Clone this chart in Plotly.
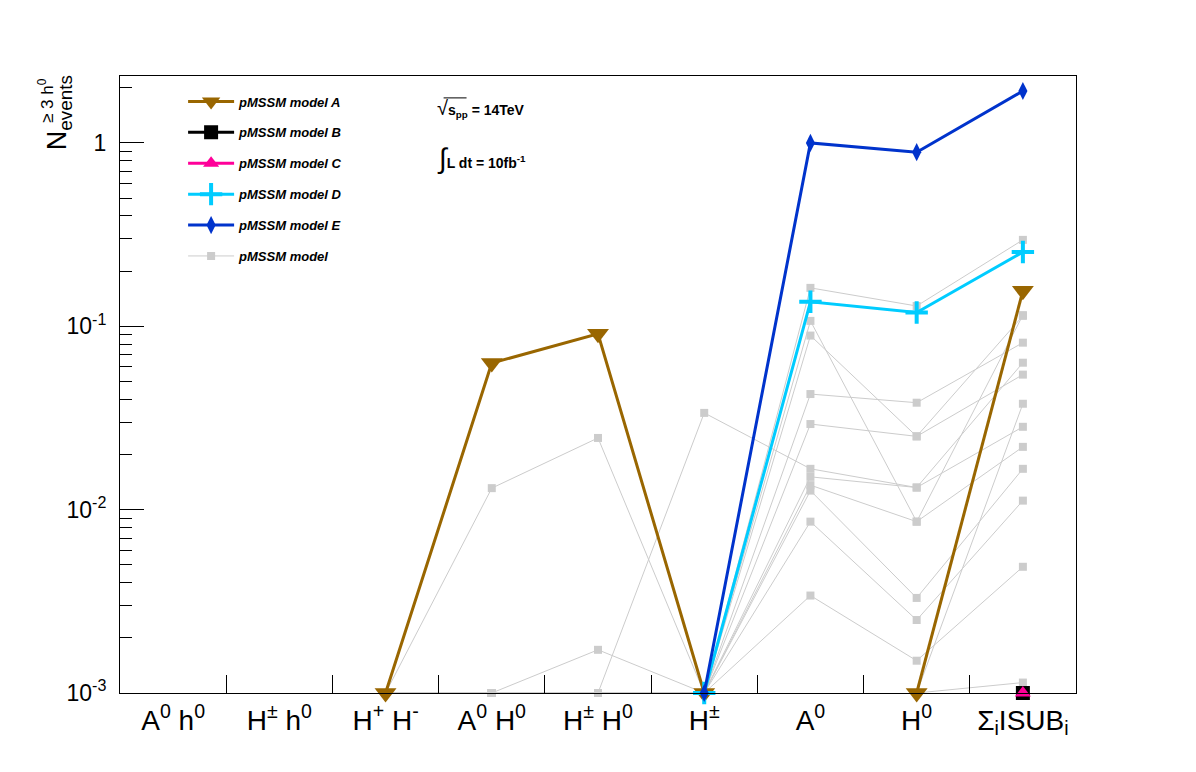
import plotly.graph_objects as go

# categories (bins of the histogram-like x axis)
categories = ["A<sup>0</sup> h<sup>0</sup>", "H<sup>±</sup> h<sup>0</sup>", "H<sup>+</sup> H<sup>-</sup>",
              "A<sup>0</sup> H<sup>0</sup>", "H<sup>±</sup> H<sup>0</sup>", "H<sup>±</sup>",
              "A<sup>0</sup>", "H<sup>0</sup>", "Σ<sub>i</sub>ISUB<sub>i</sub>"]

# benchmark models
model_a = [None, None, 0.001, 0.063, 0.091, 0.001, None, 0.001, 0.156]
model_b = [None, None, None, None, None, None, None, None, 0.001]
model_c = [None, None, None, None, None, None, None, None, 0.001]
model_d = [None, None, None, None, None, 0.001, 0.136, 0.119, 0.254]
model_e = [None, None, None, None, None, 0.001, 1.0, 0.89, 1.92]

# scan points (grey)
grey_models = [
    [None, None, 0.001, 0.001, 0.001, 0.001, 0.162, 0.129, 0.296],
    [None, None, 0.001, 0.001, 0.001, 0.001, 0.107, 0.0086, 0.115],
    [None, None, 0.001, 0.001, 0.001, 0.001, 0.089, 0.0251, 0.114],
    [None, None, 0.001, 0.001, 0.001, 0.001, 0.0427, 0.0383, 0.0814],
    [None, None, 0.001, 0.001, 0.001, 0.001, 0.0293, 0.0251, 0.0545],
    [None, None, 0.001, 0.001, 0.001, 0.0337, 0.0167, 0.0132, 0.0633],
    [None, None, 0.001, 0.001, 0.001, 0.001, 0.0151, 0.0132, 0.0283],
    [None, None, 0.001, 0.001, 0.001, 0.001, 0.0136, 0.0086, 0.0220],
    [None, None, 0.001, 0.001, 0.001, 0.001, 0.0127, 0.0033, 0.0167],
    [None, None, 0.001, 0.001, 0.001, 0.001, 0.0086, 0.0025, 0.0112],
    [None, None, 0.001, 0.001, 0.001, 0.001, 0.0034, 0.0015, 0.00488],
    [None, None, 0.001, 0.0131, 0.0246, 0.001, None, 0.001, 0.0378],
    [None, None, 0.001, 0.001, 0.00172, 0.001, None, 0.001, 0.00114],
]

# y ticks
y_tickvals = [0.001, 0.01, 0.1, 1]
y_ticktext = ["10<sup>-3</sup>", "10<sup>-2</sup>", "10<sup>-1</sup>", "1"]
minor_ticks = [m * 10.0 ** e for e in (-3, -2, -1, 0) for m in range(2, 10)]

BROWN = "#996600"
PINK = "#ff0099"
CYAN = "#00ccff"
BLUE = "#0033cc"
GREY = "#cccccc"
FONT = "Liberation Sans, Arial"

fig = go.Figure()

# grey lines first so they sit underneath
for i, vals in enumerate(grey_models):
    fig.add_trace(go.Scatter(
        x=categories, y=vals, mode="lines+markers", name="pMSSM model",
        line=dict(color=GREY, width=1),
        marker=dict(symbol="square", size=8, color=GREY),
        showlegend=(i == 0), legendgroup="g", legendrank=6, cliponaxis=False))

fig.add_trace(go.Scatter(x=categories, y=model_a, mode="lines+markers", name="pMSSM model A",
                         line=dict(color=BROWN, width=3),
                         marker=dict(symbol="triangle-down", size=19, color=BROWN),
                         legendgroup="a", legendrank=1, cliponaxis=False))
fig.add_trace(go.Scatter(x=categories, y=model_b, mode="lines+markers", name="pMSSM model B",
                         line=dict(color="black", width=3),
                         marker=dict(symbol="square", size=14, color="black"),
                         legendgroup="b", legendrank=2, cliponaxis=False))
fig.add_trace(go.Scatter(x=categories, y=model_c, mode="lines+markers", name="pMSSM model C",
                         line=dict(color=PINK, width=3),
                         marker=dict(symbol="triangle-up", size=14, color=PINK),
                         legendgroup="c", legendrank=3, cliponaxis=False))
fig.add_trace(go.Scatter(x=categories, y=model_d, mode="lines+markers", name="pMSSM model D",
                         line=dict(color=CYAN, width=3),
                         marker=dict(symbol="cross-thin", size=16, color=CYAN,
                                     line=dict(color=CYAN, width=4)),
                         legendgroup="d", legendrank=4, cliponaxis=False))
fig.add_trace(go.Scatter(x=categories, y=model_e, mode="lines+markers", name="pMSSM model E",
                         line=dict(color=BLUE, width=3),
                         marker=dict(symbol="diamond-tall", size=13, color=BLUE),
                         legendgroup="e", legendrank=5, cliponaxis=False))

fig.update_xaxes(
    type="category", range=[-0.5, 8.5], tickson="boundaries", ticks="inside", ticklen=18,
    tickcolor="black", showline=True, linecolor="black", linewidth=1, mirror=True,
    showgrid=False, layer="above traces", automargin=False, ticklabelstandoff=2,
    tickfont=dict(family=FONT, size=28, color="black"))

fig.update_yaxes(
    type="log", range=[-3, 0.365], tickmode="array",
    tickvals=y_tickvals, ticktext=y_ticktext,
    ticks="inside", ticklen=24, tickcolor="black", automargin=False,
    ticklabelstandoff=8,
    minor=dict(tickmode="array", tickvals=minor_ticks, ticks="inside", ticklen=12,
               tickcolor="black", showgrid=False),
    showline=True, linecolor="black", linewidth=1, mirror=True, showgrid=False,
    tickfont=dict(family=FONT, size=23, color="black"))

ann_font = dict(family=FONT, size=14, color="black", weight="bold")
fig.add_annotation(text="<span style='font-size:20px;font-weight:normal'>√</span>s<sub>pp</sub> = 14TeV",
                   xref="paper", yref="paper",
                   x=0.330, y=0.947, xanchor="left", yanchor="middle",
                   showarrow=False, font=ann_font)
fig.add_annotation(text="<span style='font-size:28px;font-weight:normal'>∫</span>L dt = 10fb<sup>-1</sup>",
                   xref="paper", yref="paper", x=0.330, y=0.866, xanchor="left",
                   yanchor="middle", showarrow=False, font=ann_font)
fig.add_shape(type="line", xref="paper", yref="paper", x0=0.3385, x1=0.3625,
              y0=0.9645, y1=0.9645, line=dict(color="black", width=1))

# y title, ROOT style
fig.add_annotation(text="N<sub>events</sub>", xref="paper", yref="paper",
                   x=-0.063, y=1.005, xanchor="center", yanchor="top", textangle=-90,
                   showarrow=False, font=dict(family=FONT, size=27, color="black"))
fig.add_annotation(text="≥ 3 h<sup>0</sup>", xref="paper", yref="paper",
                   x=-0.078, y=1.0, xanchor="center", yanchor="top", textangle=-90,
                   showarrow=False, font=dict(family=FONT, size=17, color="black"))

# page body has an 8px margin, so the figure is sized to fit inside the window
fig.update_layout(
    width=1180, height=756,
    margin=dict(l=112, r=112, t=68, b=71),
    paper_bgcolor="white", plot_bgcolor="white",
    legend=dict(x=0.066, y=0.983, xanchor="left", yanchor="top",
                bgcolor="rgba(0,0,0,0)", tracegroupgap=11, itemwidth=46,
                font=dict(family=FONT, size=13, color="black",
                          weight="bold", style="italic")),
)

fig.write_html("out.html")
